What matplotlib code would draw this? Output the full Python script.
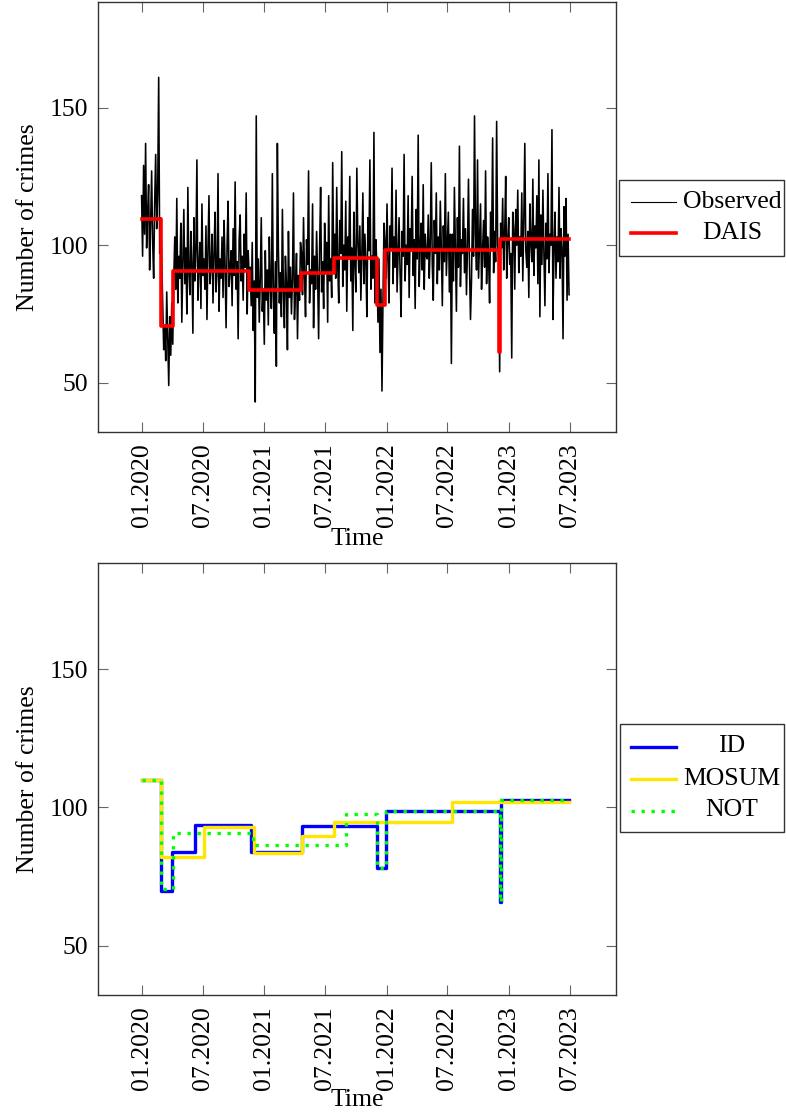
import pandas as pd
import matplotlib
matplotlib.use("Agg")
import matplotlib.pyplot as plt
from matplotlib.lines import Line2D
from matplotlib.patches import Rectangle

plt.rcParams["font.family"] = ["Liberation Serif", "DejaVu Serif"]
plt.rcParams["font.size"] = 18.5

observed = [
    118, 96, 129, 104, 137, 99, 112, 122, 91, 108, 127, 101, 88, 115, 133, 106, 119, 161, 97, 110,
    95, 78, 62, 71, 58, 83, 66, 49, 74, 60, 79, 64, 88,
    103, 84, 117, 79, 96, 88, 108, 72, 94, 113, 86, 99, 75, 121, 90, 82, 105, 93, 68, 110,
    87, 98, 131, 80, 92, 101, 77, 115, 89, 95, 84, 107, 73, 99, 118, 86, 92, 104, 79, 97,
    112, 83, 90, 126, 76, 95, 88, 103, 81, 109, 93, 70, 100, 116, 85, 91, 98, 78, 106, 89,
    123, 84, 94, 66, 102, 111, 87, 96, 80, 104, 92, 119, 75, 98, 88,
    92, 78, 101, 69, 87, 43, 147, 81, 95, 72, 88, 110, 76, 84, 64, 98, 80, 91, 71, 103,
    85, 77, 126, 82, 68, 94, 56, 137, 99, 79, 90, 74, 113, 83, 70, 96, 86, 62, 105, 81,
    92, 75, 88, 119, 73, 84, 97, 66, 89, 80, 101,
    97, 82, 110, 88, 74, 102, 93, 127, 79, 91, 86, 115, 70, 96, 84, 105, 89, 66, 99, 121,
    83, 94, 77, 108, 90, 101, 72, 118, 87, 95, 81, 130, 92,
    104, 88, 121, 93, 79, 109, 97, 134, 85, 100, 91, 116, 76, 103, 95, 125, 87, 99, 69, 112,
    94, 83, 128, 101, 90, 107, 80, 97, 119, 86, 104, 93, 74, 110, 98, 131, 84, 96, 88, 141,
    79, 102, 91,
    72, 95, 61, 84, 47, 80, 108,
    101, 88, 115, 94, 79, 107, 99, 128, 86, 103, 92, 120, 83, 97, 110, 90, 74, 105, 96, 133,
    87, 100, 93, 118, 81, 106, 98, 125, 89, 102, 77, 113, 95, 140, 85, 99, 108, 91, 122, 84,
    104, 96, 95, 111, 88, 101, 130, 93, 80, 109, 97, 119, 86, 103, 91, 116, 99, 78, 107, 94,
    126, 89, 100, 112, 83, 104, 57, 104, 87, 121, 98, 76, 110, 92, 136, 85, 102, 97, 117, 90,
    106, 82, 99, 124, 93, 73, 87, 113, 96, 147, 104, 91, 131, 88, 101, 115, 84, 98, 109, 92,
    127, 86, 103, 95, 79, 112, 99, 139, 90, 105, 94, 145, 100,
    96, 54, 108, 99, 117, 91, 104, 125, 88, 101, 110, 93, 97, 59, 112, 106, 84, 113, 100, 120,
    90, 103, 96, 119, 87, 109, 137, 98, 92, 105, 81, 115, 101, 94, 124, 89, 107, 99, 118, 86,
    131, 74, 111, 93, 120, 97, 78, 108, 95, 126, 90, 104, 100, 142, 73, 98, 112, 88, 103, 94,
    121, 88, 106, 99, 66, 114, 96, 117, 80, 104, 82,
]
obs_start = "2020-01-01"
obs_step = "3D"
end_date = "2023-06-30"

# segment start dates and levels of the estimated means
dais_dates = ["2020-01-01", "2020-02-27", "2020-04-03", "2020-11-17", "2021-04-20",
              "2021-07-28", "2021-12-04", "2021-12-28", "2022-12-03", "2022-12-06"]
dais_levels = [109.6, 70.7, 90.7, 83.6, 89.9, 95.5, 78.2, 98.2, 61.2, 102.2]

id_dates = ["2020-01-01", "2020-02-27", "2020-04-01", "2020-06-09", "2020-11-21",
            "2021-04-22", "2021-12-02", "2021-12-29", "2022-12-05", "2022-12-07"]
id_levels = [109.9, 69.9, 83.7, 93.5, 83.7, 93.2, 78.0, 98.7, 65.9, 102.7]

mosum_dates = ["2020-01-01", "2020-02-27", "2020-07-05", "2020-12-01", "2021-04-22",
               "2021-07-28", "2022-07-16"]
mosum_levels = [109.9, 82.1, 92.9, 83.5, 89.8, 94.8, 102.1]

not_dates = ["2020-01-01", "2020-02-27", "2020-04-04", "2020-11-29", "2021-09-01",
             "2021-12-02", "2021-12-29", "2022-12-05", "2022-12-07"]
not_levels = [109.9, 70.4, 90.8, 86.5, 97.7, 78.0, 98.7, 65.9, 102.7]

tick_dates = ["2020-01-01", "2020-07-01", "2021-01-01", "2021-07-01",
              "2022-01-01", "2022-07-01", "2023-01-01", "2023-07-01"]
tick_labels = ["01.2020", "07.2020", "01.2021", "07.2021",
               "01.2022", "07.2022", "01.2023", "07.2023"]

W, H = 786, 1113


def steps(dates, levels):
    x = pd.to_datetime(dates + [end_date])
    y = levels + [levels[-1]]
    return x, y


def style_axes(ax):
    x0 = pd.Timestamp(obs_start) - pd.Timedelta(days=130)
    x1 = pd.Timestamp(obs_start) + pd.Timedelta(days=1415)
    ax.set_xlim(x0, x1)
    ax.set_ylim(32.1, 188.4)
    ax.set_yticks([50, 100, 150])
    ax.set_xticks(pd.to_datetime(tick_dates))
    ax.set_xticklabels(tick_labels, rotation=90)
    ax.tick_params(direction="in", length=7.5, width=0.8, color="#666666",
                   top=True, right=True, pad=7)
    ax.tick_params(axis="x", pad=8)
    for s in ax.spines.values():
        s.set_color("#333333")
        s.set_linewidth(1.0)
    ax.set_ylabel("Number of crimes", labelpad=8)
    ax.set_xlabel("Time")
    ax.xaxis.set_label_coords(0.5, -0.249)
    ax.xaxis.label.set_va("center")


def px(x, y):
    return x / W, 1 - y / H


def legend_box(fig, box, entries):
    (bx0, by0, bx1, by1) = box
    fig.add_artist(Rectangle(px(bx0, by1), (bx1 - bx0) / W, (by1 - by0) / H,
                             transform=fig.transFigure, fill=False,
                             edgecolor="#333333", linewidth=1.0))
    for yy, label, kw in entries:
        xa, ya = px(630.5, yy)
        xb, _ = px(676, yy)
        fig.add_artist(Line2D([xa, xb], [ya, ya], transform=fig.transFigure, **kw))
        tx, ty = px(732, yy)
        fig.text(tx, ty, label, ha="center", va="center")


fig = plt.figure(figsize=(W / 100, H / 100), dpi=100)
ax1 = fig.add_axes([98 / W, 1 - 432 / H, 518 / W, 430 / H])
ax2 = fig.add_axes([98 / W, 1 - 995 / H, 518 / W, 432 / H])

obs_x = pd.date_range(obs_start, periods=len(observed), freq=obs_step)
ax1.plot(obs_x, observed, color="black", linewidth=1.15)
x, y = steps(dais_dates, dais_levels)
ax1.step(x, y, where="post", color="red", linewidth=2.6)
style_axes(ax1)

x, y = steps(id_dates, id_levels)
ax2.step(x, y, where="post", color="#0000ff", linewidth=2.4)
x, y = steps(mosum_dates, mosum_levels)
ax2.step(x, y, where="post", color="#ffe600", linewidth=2.4)
x, y = steps(not_dates, not_levels)
ax2.step(x, y, where="post", color="#00ff00", linewidth=2.4,
         linestyle=(0, (1, 2)), dash_capstyle="butt")
style_axes(ax2)
ax2.xaxis.set_label_coords(0.5, -0.243)

legend_box(fig, (619, 180, 784, 256), [
    (201.5, "Observed", dict(color="black", linewidth=0.8)),
    (233, "DAIS", dict(color="red", linewidth=2.6)),
])
legend_box(fig, (620, 724, 784, 832), [
    (746.5, "ID", dict(color="#0000ff", linewidth=2.4)),
    (779, "MOSUM", dict(color="#ffe600", linewidth=2.4)),
    (810.5, "NOT", dict(color="#00ff00", linewidth=2.4, linestyle=(0, (1, 2)),
                        dash_capstyle="butt")),
])

fig.savefig("out.png", dpi=100)
